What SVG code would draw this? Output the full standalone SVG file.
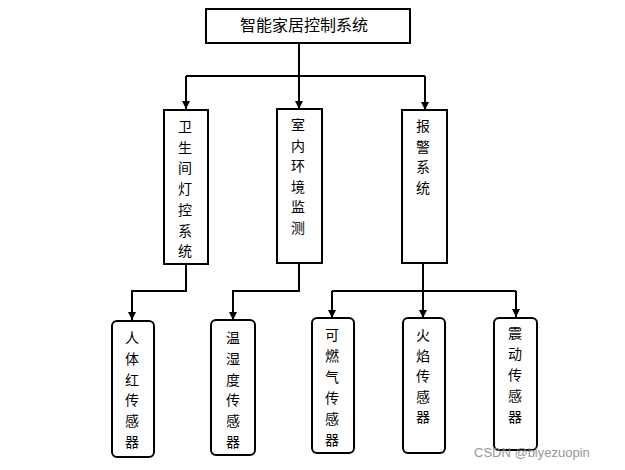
<svg xmlns="http://www.w3.org/2000/svg" width="625" height="470" viewBox="0 0 625 470">
<defs>
<style>
.box{fill:#fff;stroke:#000;stroke-width:2}
.lbl{font-family:"Noto Sans CJK SC","Liberation Sans",sans-serif;font-size:16px;fill:#000;text-anchor:middle}
.v{font-size:14px}
.con{fill:none;stroke:#000;stroke-width:2}
.wm{font-family:"Liberation Sans",Arial,sans-serif;font-size:13px;fill:#8c8c8c;opacity:0.9}
</style>
<marker id="arr" markerUnits="userSpaceOnUse" markerWidth="9" markerHeight="9" refX="8" refY="4.5" orient="auto">
<path d="M0,0.5 L8,4.5 L0,8.5 z" fill="#000"/>
</marker>
</defs>
<rect width="625" height="470" fill="#fff"/>
<g id="connectors">
<path class="con" d="M299 43 V76"/>
<path class="con" d="M186 76 H425"/>
<path class="con" d="M186 76 V109" marker-end="url(#arr)"/>
<path class="con" d="M299 76 V109" marker-end="url(#arr)"/>
<path class="con" d="M425 76 V110" marker-end="url(#arr)"/>
<path class="con" d="M186 264 V291 H132 V320" marker-end="url(#arr)"/>
<path class="con" d="M299 263 V291 H233 V320" marker-end="url(#arr)"/>
<path class="con" d="M423 263 V291"/>
<path class="con" d="M332 291 H516"/>
<path class="con" d="M332 291 V318" marker-end="url(#arr)"/>
<path class="con" d="M423 291 V318" marker-end="url(#arr)"/>
<path class="con" d="M516 291 V317" marker-end="url(#arr)"/>
</g>
<g id="root">
<rect class="box" x="206" y="9" width="204" height="34"/>
<text class="lbl" x="304" y="31">智能家居控制系统</text>
</g>
<g id="bath">
<rect class="box" x="164" y="110" width="44" height="154"/>
<text class="lbl v" x="185" y="132"><tspan x="185">卫</tspan><tspan x="185" dy="20.7">生</tspan><tspan x="185" dy="20.7">间</tspan><tspan x="185" dy="20.7">灯</tspan><tspan x="185" dy="20.7">控</tspan><tspan x="185" dy="20.7">系</tspan><tspan x="185" dy="20.7">统</tspan></text>
</g>
<g id="indoor">
<rect class="box" x="277" y="109" width="45" height="154"/>
<text class="lbl v" x="298" y="130"><tspan x="298">室</tspan><tspan x="298" dy="20.6">内</tspan><tspan x="298" dy="20.6">环</tspan><tspan x="298" dy="20.6">境</tspan><tspan x="298" dy="20.6">监</tspan><tspan x="298" dy="20.6">测</tspan></text>
</g>
<g id="alarm">
<rect class="box" x="402" y="110" width="45" height="153"/>
<text class="lbl v" x="423" y="131"><tspan x="423">报</tspan><tspan x="423" dy="20.7">警</tspan><tspan x="423" dy="20.7">系</tspan><tspan x="423" dy="20.7">统</tspan></text>
</g>
<g id="pir">
<rect class="box" x="112" y="321" width="42" height="136" rx="5"/>
<text class="lbl v" x="132" y="343"><tspan x="132">人</tspan><tspan x="132" dy="20.8">体</tspan><tspan x="132" dy="20.8">红</tspan><tspan x="132" dy="20.8">传</tspan><tspan x="132" dy="20.8">感</tspan><tspan x="132" dy="20.8">器</tspan></text>
</g>
<g id="humid">
<rect class="box" x="211" y="320" width="44" height="135" rx="5"/>
<text class="lbl v" x="233" y="343"><tspan x="233">温</tspan><tspan x="233" dy="20.8">湿</tspan><tspan x="233" dy="20.8">度</tspan><tspan x="233" dy="20.8">传</tspan><tspan x="233" dy="20.8">感</tspan><tspan x="233" dy="20.8">器</tspan></text>
</g>
<g id="gas">
<rect class="box" x="312" y="318" width="42" height="135" rx="5"/>
<text class="lbl v" x="332" y="340"><tspan x="332">可</tspan><tspan x="332" dy="21">燃</tspan><tspan x="332" dy="21">气</tspan><tspan x="332" dy="21">传</tspan><tspan x="332" dy="21">感</tspan><tspan x="332" dy="21">器</tspan></text>
</g>
<g id="flame">
<rect class="box" x="403" y="318" width="42" height="135" rx="5"/>
<text class="lbl v" x="423" y="340"><tspan x="423">火</tspan><tspan x="423" dy="20.6">焰</tspan><tspan x="423" dy="20.6">传</tspan><tspan x="423" dy="20.6">感</tspan><tspan x="423" dy="20.6">器</tspan></text>
</g>
<g id="vibration">
<rect class="box" x="494" y="318" width="43" height="132" rx="5"/>
<text class="lbl v" x="515" y="338"><tspan x="515">震</tspan><tspan x="515" dy="21">动</tspan><tspan x="515" dy="21">传</tspan><tspan x="515" dy="21">感</tspan><tspan x="515" dy="21">器</tspan></text>
</g>
<text class="wm" x="474" y="457">CSDN @biyezuopin</text>
</svg>
